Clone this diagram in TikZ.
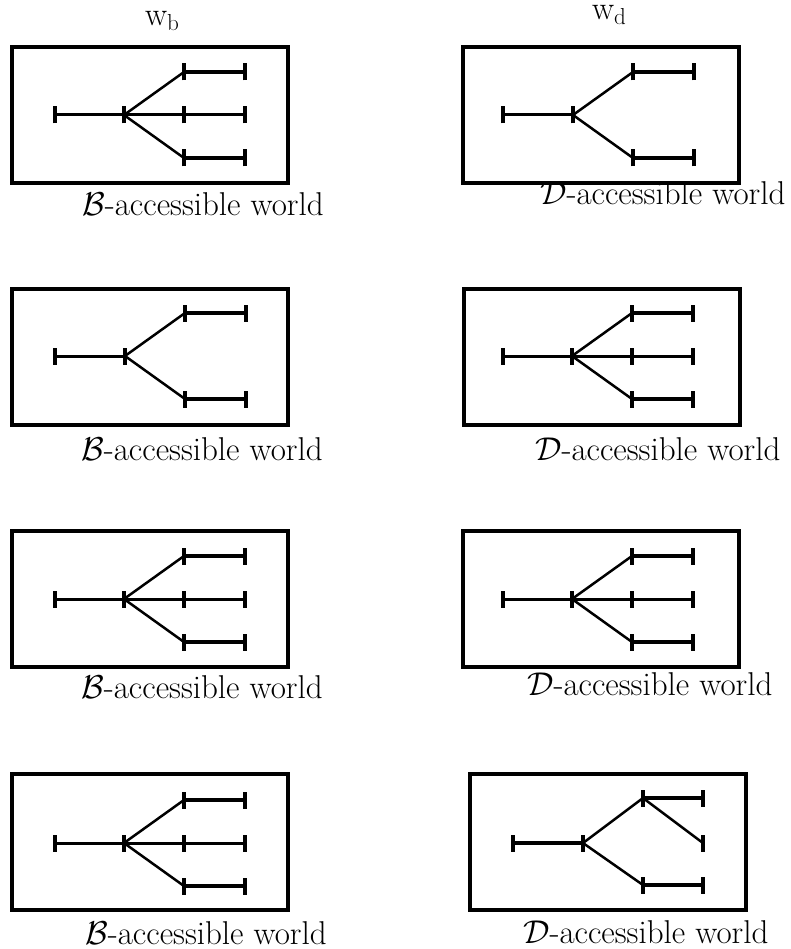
\RequirePackage{fix-cm}
\documentclass[tikz,border=0pt]{standalone}
\usepackage{tikz}

\begin{document}
\begin{tikzpicture}[
  x=1pt, y=-1pt,
  font=\fontsize{33}{40}\selectfont,
  world/.style={
    rectangle, draw, line width=4pt,
    minimum width=276pt, minimum height=136pt,
    inner sep=0pt
  },
  lab/.style={anchor=base west, inner sep=0pt},
  stem/.style={line width=3pt},
  branch/.style={line width=2.5pt},
  leaf/.style={line width=4pt},
  tickmark/.style={line width=3.5pt},
  fulltree/.pic={
    \coordinate (-r) at (0,0);
    \coordinate (-f) at (69,0);
    \coordinate (-u) at (129,-43);
    \coordinate (-m) at (129,0);
    \coordinate (-d) at (129,43);
    \coordinate (-ue) at (190,-43);
    \coordinate (-me) at (190,0);
    \coordinate (-de) at (190,43);
    \draw[stem] (-r) -- (-f) -- (-m) -- (-me);
    \draw[branch] (-f) -- (-u) (-f) -- (-d);
    \draw[leaf] (-u) -- (-ue) (-d) -- (-de);
    \foreach \p in {r,f,u,m,d,ue,me,de}
      \draw[tickmark] ([yshift=-8.5pt]-\p) -- ([yshift=8.5pt]-\p);
  },
  forktree/.pic={
    \coordinate (-r) at (0,0);
    \coordinate (-f) at (70,0);
    \coordinate (-u) at (130,-43);
    \coordinate (-d) at (130,43);
    \coordinate (-ue) at (191,-43);
    \coordinate (-de) at (191,43);
    \draw[stem] (-r) -- (-f);
    \draw[branch] (-f) -- (-u) (-f) -- (-d);
    \draw[leaf] (-u) -- (-ue) (-d) -- (-de);
    \foreach \p in {r,f,u,d,ue,de}
      \draw[tickmark] ([yshift=-8.5pt]-\p) -- ([yshift=8.5pt]-\p);
  },
  crosstree/.pic={
    \coordinate (-r) at (0,0);
    \coordinate (-f) at (70,0);
    \coordinate (-u) at (130,-45);
    \coordinate (-d) at (130,42);
    \coordinate (-ue) at (190,-45);
    \coordinate (-me) at (190,0);
    \coordinate (-de) at (190,42);
    \draw[leaf] (-r) -- (-f);
    \draw[branch] (-f) -- (-u) -- (-me) (-f) -- (-d);
    \draw[leaf] (-u) -- (-ue) (-d) -- (-de);
    \foreach \p in {r,f,u,d,ue,me,de}
      \draw[tickmark] ([yshift=-8.5pt]-\p) -- ([yshift=8.5pt]-\p);
  }
]
\useasboundingbox (0,0) rectangle (791,949);

% world names
\node[lab] (wb) at (145,26) {$\mathrm{w}_{\mathrm{b}}$};
\node[lab] (wd) at (592,20) {$\mathrm{w}_{\mathrm{d}}$};

% row 1
\node[world] (b1) at (150,115) {};
\pic (tb1) at (55,115) {fulltree};
\node[lab] (lb1) at (82,216) {$\mathcal{B}$-accessible world};
\node[world] (d1) at (601,115) {};
\pic (td1) at (503,115) {forktree};
\node[lab] (ld1) at (540,205) {$\mathcal{D}$-accessible world};

% row 2
\node[world] (b2) at (150,357) {};
\pic (tb2) at (55,356) {forktree};
\node[lab] (lb2) at (81,460) {$\mathcal{B}$-accessible world};
\node[world] (d2) at (602,357) {};
\pic (td2) at (503,356) {fulltree};
\node[lab] (ld2) at (535,460) {$\mathcal{D}$-accessible world};

% row 3
\node[world] (b3) at (150,599) {};
\pic (tb3) at (55,599) {fulltree};
\node[lab] (lb3) at (81,698) {$\mathcal{B}$-accessible world};
\node[world] (d3) at (601,599) {};
\pic (td3) at (503,599) {fulltree};
\node[lab] (ld3) at (527,695) {$\mathcal{D}$-accessible world};

% row 4
\node[world] (b4) at (150,842) {};
\pic (tb4) at (55,843) {fulltree};
\node[lab] (lb4) at (85,944) {$\mathcal{B}$-accessible world};
\node[world] (d4) at (608,842) {};
\pic (td4) at (513,843) {crosstree};
\node[lab] (ld4) at (523,943) {$\mathcal{D}$-accessible world};
\end{tikzpicture}
\end{document}
